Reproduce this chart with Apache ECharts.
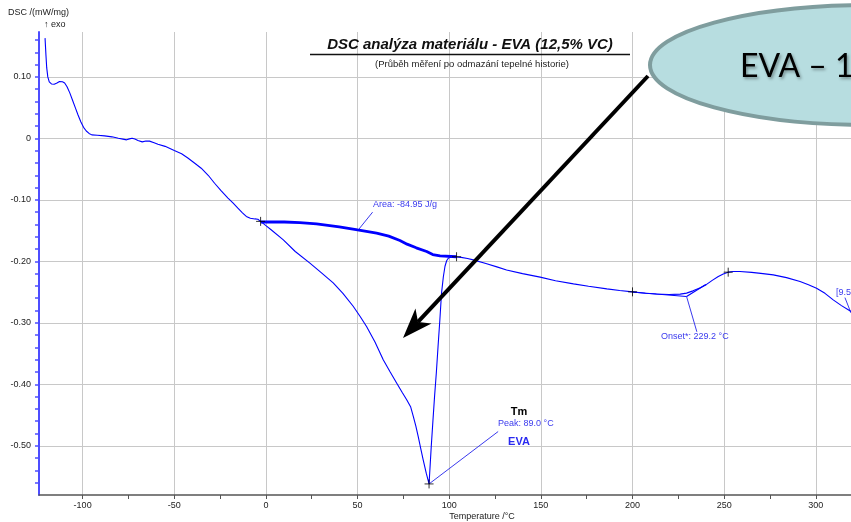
<!DOCTYPE html>
<html>
<head>
<meta charset="utf-8">
<script src="https://cdn.jsdelivr.net/npm/echarts@6/dist/echarts.min.js"></script>
<style>
  html, body { margin: 0; padding: 0; background: #ffffff; }
  #chart { width: 851px; height: 522px; }
</style>
</head>
<body>
<div id="chart"></div>
<script>
// DSC heating curve: temperature (°C) and heat flow (mW/mg)
const temps = [
  -120.5, -120.0, -119.6, -119.0, -118.2, -117.0, -115.5, -114.0, -112.6, -111.0,
  -109.8, -108.5, -107.0, -105.5, -104.0, -102.5, -101.0, -99.5, -98.0, -96.5,
  -95.0, -92.0, -88.0, -84.0, -80.5, -78.0, -76.0, -74.5, -73.0, -71.5,
  -69.8, -67.5, -65.5, -63.5, -61.0, -58.9, -55.0, -50.0, -46.0, -42.6,
  -39.0, -35.3, -31.5, -28.0, -24.5, -20.7, -18.0, -15.3, -12.8, -10.7,
  -8.5, -6.0, -4.4, -2.9,
  0.0, 3.0, 9.5, 16.0, 24.0, 30.0, 36.7, 42.0, 47.6, 51.5,
  54.9, 59.5, 64.0, 67.8, 71.3, 74.3, 76.8, 79.0, 80.4, 81.8,
  83.1, 84.5, 85.8, 87.5, 89.0,
  90.2, 91.1, 92.0, 93.0, 93.9, 94.9, 95.8, 96.8, 97.7, 98.6,
  99.5, 101.0, 103.0,
  104.0, 106.5, 110.0, 113.1, 120.0, 126.0, 131.3, 140.0, 149.6, 158.0,
  167.8, 176.0, 186.0, 193.0, 200.0, 207.0, 213.0, 220.0, 226.0, 229.5,
  233.0, 237.0, 240.4, 243.5, 246.8, 249.5, 252.2, 255.0, 258.6, 265.0,
  270.0, 276.8, 284.0, 291.4, 296.0, 300.4, 305.0, 309.5, 314.0, 319.2
];
const dsc = [
  0.163, 0.135, 0.115, 0.100, 0.092, 0.0885, 0.088, 0.090, 0.0925, 0.0920,
  0.090, 0.084, 0.074, 0.062, 0.050, 0.038, 0.027, 0.018, 0.012, 0.008,
  0.0057, 0.0050, 0.0040, 0.0025, 0.0003, -0.0012, -0.0024, -0.0008, 0.0003, -0.0010,
  -0.0035, -0.0057, -0.0043, -0.0045, -0.0070, -0.0095, -0.0130, -0.0198, -0.0250, -0.0320,
  -0.0400, -0.0485, -0.0600, -0.0730, -0.0850, -0.0970, -0.1050, -0.1135, -0.1210, -0.1270,
  -0.1300, -0.1310, -0.1315, -0.1350,
  -0.142, -0.149, -0.165, -0.184, -0.203, -0.218, -0.235, -0.252, -0.273, -0.290,
  -0.306, -0.331, -0.360, -0.380, -0.398, -0.413, -0.425, -0.437, -0.452, -0.468,
  -0.485, -0.505, -0.523, -0.545, -0.562,
  -0.501, -0.460, -0.420, -0.380, -0.339, -0.295, -0.252, -0.225, -0.208, -0.199,
  -0.195, -0.1925, -0.1925,
  -0.1925, -0.1935, -0.1955, -0.1976, -0.2035, -0.2090, -0.2140, -0.2200, -0.2257, -0.2315,
  -0.2366, -0.2405, -0.2447, -0.2475, -0.2496, -0.2518, -0.2530, -0.2538, -0.2533, -0.2517,
  -0.2480, -0.2430, -0.2375, -0.2310, -0.2247, -0.2205, -0.2176, -0.2165, -0.2166, -0.2180,
  -0.2195, -0.2220, -0.2265, -0.2328, -0.2380, -0.2436, -0.2520, -0.2626, -0.2720, -0.2816
];

// Integration baseline under the melting peak
const baseT = [-2.7, 10.0, 18.5, 27.6, 40.0, 50.0, 60.4, 67.0, 73.1, 77.0, 82.0, 87.7, 91.0, 95.0, 104.0];
const baseV = [-0.136, -0.136, -0.137, -0.139, -0.144, -0.149, -0.154, -0.159, -0.166, -0.172, -0.178, -0.184, -0.189, -0.191, -0.1925];

// Onset construction (extrapolated baseline and inflection tangent)
const onsetBaseT = [200.0, 229.5];
const onsetBaseV = [-0.2500, -0.2572];
const onsetTanT = [229.5, 240.0];
const onsetTanV = [-0.2572, -0.2375];

// Evaluation markers (+)
const markT = [-2.9, 104.0, 200.0, 252.2, 89.0];
const markV = [-0.135, -0.1925, -0.2496, -0.2176, -0.562];

// Leader lines of the evaluation labels
const leaderArea = [[50.4, -0.1488], [58.2, -0.120]];
const leaderPeak = [[89.0, -0.562], [126.7, -0.4768]];
const leaderOnset = [[229.5, -0.2572], [235.1, -0.3146]];
const leaderRight = [[315.9, -0.259], [319.2, -0.284]];

// Axis ticks and labels
const xLabelValues = [-100, -50, 0, 50, 100, 150, 200, 250, 300];
const xTickValues = [-100, -75, -50, -25, 0, 25, 50, 75, 100, 125, 150, 175, 200, 225, 250, 275, 300];
const yLabelValues = [-0.5, -0.4, -0.3, -0.2, -0.1, 0, 0.1];
const yTickValues = [];
for (let k = -28; k <= 8; k++) yTickValues.push(Math.round(k * 2) / 100);

const X_MIN = -123.8, X_MAX = 319.2;
const Y_MIN = -0.58, Y_MAX = 0.173;

const FONT = 'Liberation Sans, Arial, sans-serif';
const BLUE = '#0000ff';
const NOTE = '#3a3aee';
const AXIS_BLUE = '#4d4dff';

const pair = (xs, ys) => xs.map((x, i) => [x, ys[i]]);

const chart = echarts.init(document.getElementById('chart'), null, { renderer: 'canvas' });

const leader = (data) => ({
  type: 'line', data, showSymbol: false, silent: true, animation: false,
  lineStyle: { color: NOTE, width: 1 }, z: 3
});

// Arrow geometry (pointer from the callout to the melting region)
const aStart = [648, 76], aTip = [403, 338];
const dx = aTip[0] - aStart[0], dy = aTip[1] - aStart[1];
const len = Math.hypot(dx, dy);
const ux = dx / len, uy = dy / len, nx = -uy, ny = ux;
const headLen = 30, headHalf = 11, notch = 22;
const baseC = [aTip[0] - headLen * ux, aTip[1] - headLen * uy];
const notchP = [aTip[0] - notch * ux, aTip[1] - notch * uy];

const txt = (x, y, text, opts) => Object.assign({
  type: 'text', x, y, silent: true, z: 50,
  style: Object.assign({
    text, fill: '#222', font: '9px ' + FONT,
    textAlign: 'left', textVerticalAlign: 'middle', verticalAlign: 'middle'
  }, opts || {})
});

chart.setOption({
  animation: false,
  backgroundColor: '#ffffff',
  grid: { left: 39, right: 0, top: 32, bottom: 27, containLabel: false, outerBoundsMode: 'none' },
  xAxis: [
    {
      type: 'value', min: X_MIN, max: X_MAX, position: 'bottom',
      axisLine: { show: true, onZero: false, lineStyle: { color: '#555555', width: 1.5 } },
      axisTick: { show: true, length: 4, customValues: xTickValues, lineStyle: { color: '#555555', width: 1 } },
      axisLabel: {
        customValues: xLabelValues, fontSize: 9, fontFamily: FONT, color: '#222', margin: 6,
        formatter: v => String(v)
      },
      splitLine: { show: false }
    },
    {
      type: 'value', min: X_MIN, max: X_MAX, position: 'bottom',
      axisLine: { show: false }, axisTick: { show: false, customValues: xLabelValues },
      axisLabel: { show: false },
      splitLine: { show: true, lineStyle: { color: '#c8c8c8', width: 1 } }
    }
  ],
  yAxis: [
    {
      type: 'value', min: Y_MIN, max: Y_MAX, position: 'left',
      axisLine: { show: true, onZero: false, lineStyle: { color: AXIS_BLUE, width: 2 } },
      axisTick: { show: true, length: 4, customValues: yTickValues, lineStyle: { color: AXIS_BLUE, width: 1.5 } },
      axisLabel: {
        customValues: yLabelValues, fontSize: 9, fontFamily: FONT, color: '#222', margin: 8,
        formatter: v => (Math.abs(v) < 1e-9 ? '0' : v.toFixed(2))
      },
      splitLine: { show: false }
    },
    {
      type: 'value', min: Y_MIN, max: Y_MAX, position: 'left',
      axisLine: { show: false }, axisTick: { show: false, customValues: yLabelValues },
      axisLabel: { show: false },
      splitLine: { show: true, lineStyle: { color: '#c8c8c8', width: 1 } }
    }
  ],
  series: [
    {
      type: 'line', data: pair(temps, dsc), showSymbol: false, silent: true,
      lineStyle: { color: BLUE, width: 1.1 }, z: 4
    },
    {
      type: 'line', data: pair(baseT, baseV), showSymbol: false, silent: true,
      lineStyle: { color: BLUE, width: 2.8 }, z: 5
    },
    {
      type: 'line', data: pair(onsetBaseT, onsetBaseV), showSymbol: false, silent: true,
      lineStyle: { color: BLUE, width: 1 }, z: 4
    },
    {
      type: 'line', data: pair(onsetTanT, onsetTanV), showSymbol: false, silent: true,
      lineStyle: { color: BLUE, width: 1.2 }, z: 4
    },
    leader(leaderArea),
    leader(leaderPeak),
    leader(leaderOnset),
    leader(leaderRight),
    {
      type: 'scatter', data: pair(markT, markV), silent: true,
      symbol: 'path://M0,5L10,5M5,0L5,10', symbolSize: 9,
      itemStyle: { color: 'rgba(0,0,0,0)', borderColor: '#000000', borderWidth: 1 }, z: 6
    }
  ],
  graphic: [
    txt(8, 13, 'DSC /(mW/mg)'),
    txt(44, 25, '\u2191 exo'),
    txt(470, 45, 'DSC analýza materiálu - EVA (12,5% VC)', {
      font: 'italic bold 15px ' + FONT, fill: '#111', textAlign: 'center'
    }),
    { type: 'line', silent: true, z: 50, shape: { x1: 310, y1: 54.5, x2: 630, y2: 54.5 }, style: { stroke: '#111', lineWidth: 1.3 } },
    txt(472, 64, '(Průběh měření po odmazání tepelné historie)', { textAlign: 'center', font: '9.5px ' + FONT }),
    txt(373, 205, 'Area: -84.95 J/g', { fill: NOTE }),
    txt(519, 412, 'Tm', { font: 'bold 11px ' + FONT, fill: '#000', textAlign: 'center' }),
    txt(498, 424, 'Peak: 89.0 °C', { fill: NOTE }),
    txt(519, 441.5, 'EVA', { font: 'bold 11px ' + FONT, fill: '#2a2af0', textAlign: 'center' }),
    txt(661, 337, 'Onset*: 229.2 °C', { fill: NOTE }),
    txt(836, 293, '[9.5', { fill: NOTE }),
    txt(482, 517, 'Temperature /°C', { textAlign: 'center' }),
    // callout bubble
    {
      type: 'ellipse', silent: true, z: 60,
      shape: { cx: 869, cy: 65, rx: 219, ry: 60 },
      style: { fill: '#b7dde0', stroke: '#7f9d9e', lineWidth: 4 }
    },
    {
      type: 'text', x: 740, y: 67, silent: true, z: 61,
      style: {
        text: 'EVA \u2013 1', font: '32px Lato, "Open Sans", sans-serif', fill: '#000',
        textAlign: 'left', textVerticalAlign: 'middle', verticalAlign: 'middle',
        textShadowColor: 'rgba(0,0,0,0.35)', textShadowBlur: 3, textShadowOffsetX: 1.5, textShadowOffsetY: 1.5
      }
    },
    // pointer arrow
    {
      type: 'line', silent: true, z: 62,
      shape: { x1: aStart[0], y1: aStart[1], x2: notchP[0], y2: notchP[1] },
      style: { stroke: '#000', lineWidth: 4 }
    },
    {
      type: 'polygon', silent: true, z: 62,
      shape: {
        points: [
          aTip,
          [baseC[0] + headHalf * nx, baseC[1] + headHalf * ny],
          notchP,
          [baseC[0] - headHalf * nx, baseC[1] - headHalf * ny]
        ]
      },
      style: { fill: '#000' }
    }
  ]
});
</script>
</body>
</html>
